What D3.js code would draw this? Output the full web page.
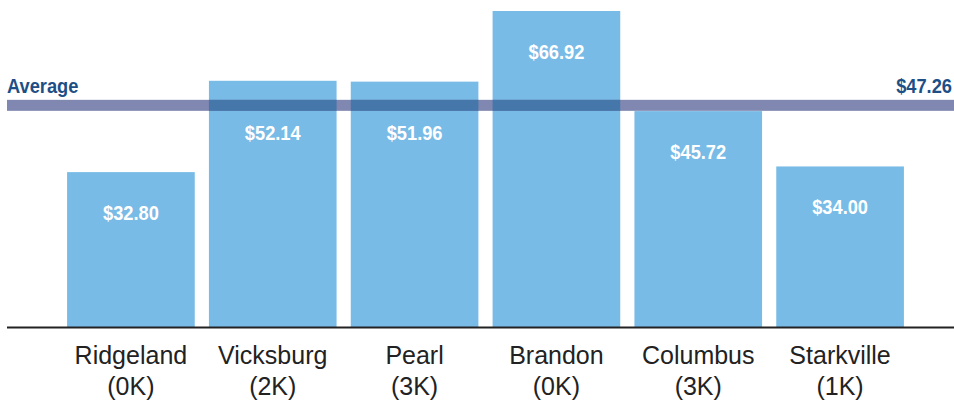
<!doctype html>
<html>
  <head>
    <meta charset="utf-8">
    <title>Average by city</title>
    <script src="https://cdn.jsdelivr.net/npm/d3@7"></script>
    <style>
      body { margin: 0; background: #fff; }
      svg { display: block; font-family: 'Liberation Sans', Arial, Helvetica, sans-serif; }
    </style>
  </head>
  <body>
    <script>
      const cities = ['Ridgeland', 'Vicksburg', 'Pearl', 'Brandon', 'Columbus', 'Starkville'];
      const counts = ['(0K)', '(2K)', '(3K)', '(0K)', '(3K)', '(1K)'];
      const values = [32.80, 52.14, 51.96, 66.92, 45.72, 34.00];
      const average = 47.26;

      const width = 954;
      const height = 400;
      const baseY = 327;

      const barColor = '#78bbe6';
      const bandColor = '#8087b0';
      const overlapColor = '#4677ab';
      const navy = '#1d4f86';

      const svg = d3.select('body').append('svg')
          .attr('width', width)
          .attr('height', height);

      // scales
      const x = d3.scaleBand()
          .domain(cities)
          .range([60, 911])
          .paddingInner(0.1)
          .paddingOuter(0.05);

      const y = d3.scaleLinear()
          .domain([0, d3.max(values)])
          .range([baseY, 11]);

      const money = d => '$' + d3.format('.2f')(d);

      // condensed bold text: Liberation Sans Bold squeezed horizontally
      const squeeze = (sel, ax, ay, anchor) => sel
          .attr('transform', `translate(${ax},${ay}) scale(0.87,1)`)
          .attr('text-anchor', anchor)
          .attr('font-weight', 'bold')
          .attr('font-size', 21);

      // bars
      svg.append('g')
        .selectAll('rect')
        .data(values)
        .join('rect')
          .attr('x', (d, i) => x(cities[i]))
          .attr('y', d => y(d))
          .attr('width', x.bandwidth())
          .attr('height', d => baseY - y(d))
          .attr('fill', barColor);

      // average band
      const bandTop = y(average) - 4;
      const bandH = 11;
      const bandBottom = bandTop + bandH;

      svg.append('rect')
          .attr('x', 7)
          .attr('y', bandTop)
          .attr('width', width - 7)
          .attr('height', bandH)
          .attr('fill', bandColor);

      // where the band crosses a bar
      svg.append('g')
        .selectAll('rect')
        .data(values.map((v, i) => ({ v, c: cities[i] })).filter(d => y(d.v) < bandBottom))
        .join('rect')
          .attr('x', d => x(d.c))
          .attr('y', d => Math.max(bandTop, y(d.v)))
          .attr('width', x.bandwidth())
          .attr('height', d => bandBottom - Math.max(bandTop, y(d.v)))
          .attr('fill', overlapColor);

      svg.append('text')
          .call(squeeze, 7, 93, 'start')
          .attr('fill', navy)
          .text('Average');

      svg.append('text')
          .call(squeeze, 952, 93, 'end')
          .attr('fill', navy)
          .text(money(average));

      // value labels; pushed below the band when the bar top is just above it
      const labelY = d => {
        const top = y(d);
        if (top < bandTop && bandTop - top < 48) return bandBottom + 29;
        return top + 48;
      };

      svg.append('g')
        .selectAll('text')
        .data(values)
        .join('text')
          .each(function(d, i) {
            d3.select(this).call(squeeze, x(cities[i]) + x.bandwidth() / 2, labelY(d), 'middle');
          })
          .attr('fill', '#fff')
          .text(money);

      // baseline
      svg.append('line')
          .attr('x1', 7)
          .attr('x2', width)
          .attr('y1', baseY + 0.5)
          .attr('y2', baseY + 0.5)
          .attr('stroke', '#222')
          .attr('stroke-width', 2.2);

      // category labels
      const labels = svg.append('g')
          .attr('font-size', 25)
          .attr('fill', '#222')
          .attr('text-anchor', 'middle')
        .selectAll('text')
        .data(cities)
        .join('text');

      labels.append('tspan')
          .attr('x', d => x(d) + x.bandwidth() / 2)
          .attr('y', 364)
          .text(d => d);

      labels.append('tspan')
          .attr('x', d => x(d) + x.bandwidth() / 2)
          .attr('y', 395)
          .text((d, i) => counts[i]);
    </script>
  </body>
</html>
